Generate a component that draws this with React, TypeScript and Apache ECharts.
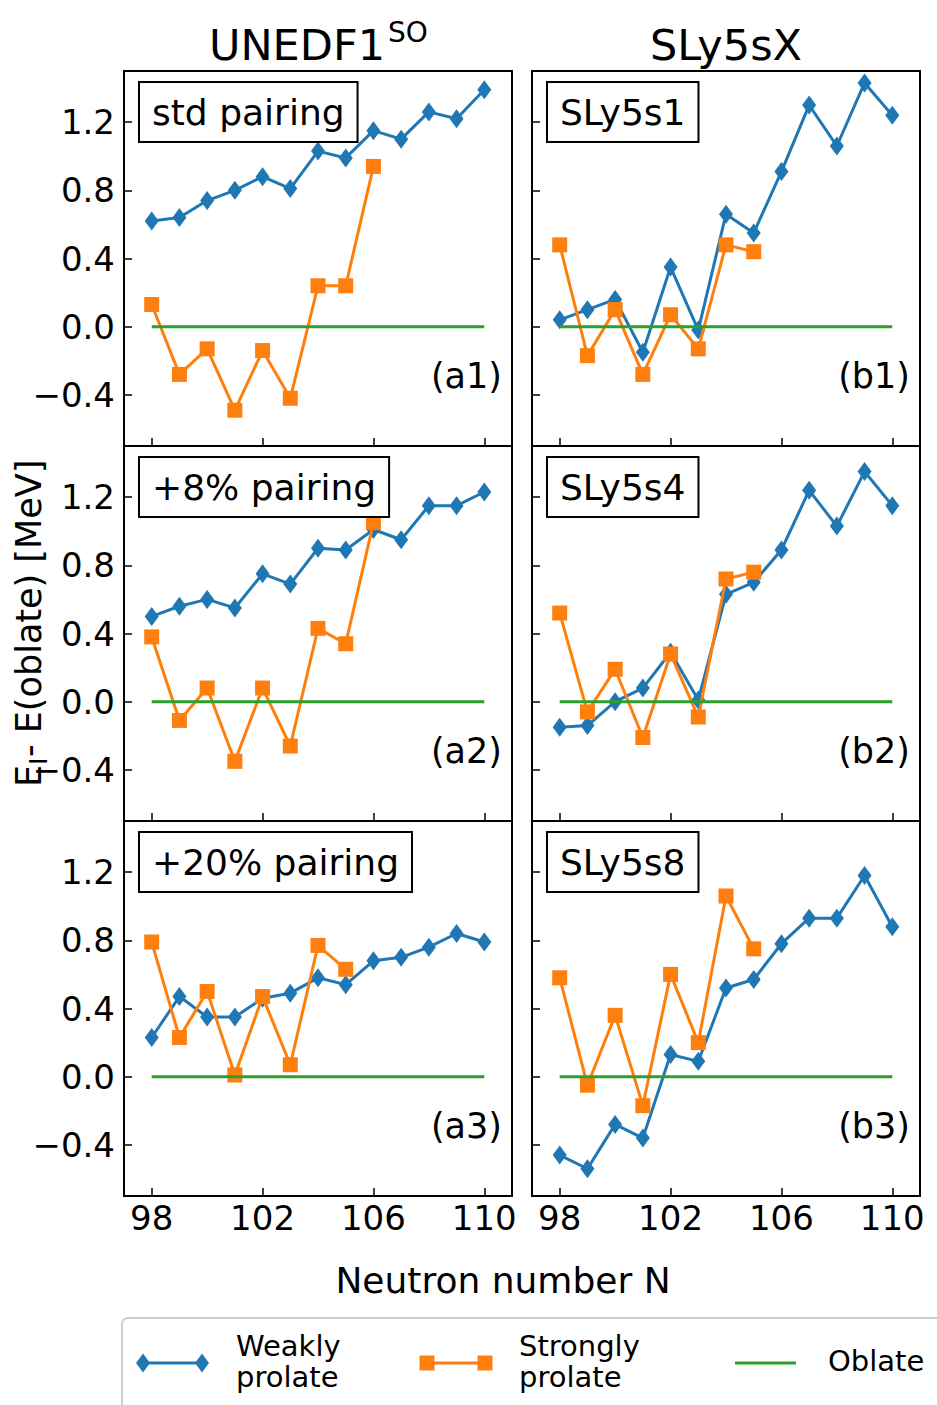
import React, { useEffect, useRef } from "react";
import * as echarts from "echarts";

// ---------- data ----------
const neutronN = [98, 99, 100, 101, 102, 103, 104, 105, 106, 107, 108, 109, 110];
const xTicks = [98, 102, 106, 110];
const yTicks = [-0.4, 0.0, 0.4, 0.8, 1.2];

const weakA1 = [0.62, 0.64, 0.74, 0.80, 0.88, 0.81, 1.03, 0.99, 1.15, 1.10, 1.26, 1.22, 1.39];
const strongA1 = [0.13, -0.28, -0.13, -0.49, -0.14, -0.42, 0.24, 0.24, 0.94];
const weakB1 = [0.04, 0.10, 0.16, -0.15, 0.35, -0.02, 0.66, 0.55, 0.91, 1.30, 1.06, 1.43, 1.24];
const strongB1 = [0.48, -0.17, 0.10, -0.28, 0.07, -0.13, 0.48, 0.44];
const weakA2 = [0.50, 0.56, 0.60, 0.55, 0.75, 0.69, 0.90, 0.89, 1.01, 0.95, 1.15, 1.15, 1.23];
const strongA2 = [0.38, -0.11, 0.08, -0.35, 0.08, -0.26, 0.43, 0.34, 1.05];
const weakB2 = [-0.15, -0.14, 0.00, 0.08, 0.29, 0.01, 0.63, 0.70, 0.89, 1.24, 1.03, 1.35, 1.15];
const strongB2 = [0.52, -0.06, 0.19, -0.21, 0.28, -0.09, 0.72, 0.76];
const weakA3 = [0.23, 0.47, 0.35, 0.35, 0.46, 0.49, 0.58, 0.54, 0.68, 0.70, 0.76, 0.84, 0.79];
const strongA3 = [0.79, 0.23, 0.50, 0.01, 0.47, 0.07, 0.77, 0.63];
const weakB3 = [-0.46, -0.54, -0.28, -0.36, 0.13, 0.09, 0.52, 0.57, 0.78, 0.93, 0.93, 1.18, 0.88];
const strongB3 = [0.58, -0.05, 0.36, -0.17, 0.60, 0.20, 1.06, 0.75];
const oblate = [0, 0, 0, 0, 0, 0, 0, 0, 0, 0, 0, 0, 0];

const weakSets = [weakA1, weakB1, weakA2, weakB2, weakA3, weakB3];
const strongSets = [strongA1, strongB1, strongA2, strongB2, strongA3, strongB3];
const panelNames = ["std pairing", "SLy5s1", "+8% pairing", "SLy5s4", "+20% pairing", "SLy5s8"];
const panelTags = ["(a1)", "(b1)", "(a2)", "(b2)", "(a3)", "(b3)"];
const columnTitles = ["UNEDF1", "SLy5sX"];
const legendNames = ["Weakly\nprolate", "Strongly\nprolate", "Oblate"];

// ---------- style / layout ----------
const BLUE = "#1f77b4";
const ORANGE = "#ff7f0e";
const GREEN = "#2ca02c";
const FONT = "DejaVu Sans";
const colLeft = [124, 532];
const rowTop = [71, 446, 821];
const PW = 388;
const PH = 375;

function fmtY(v: number) {
  const s = Math.abs(v).toFixed(1);
  return v < -1e-9 ? "\u2212" + s : s;
}

export default function App() {
  const ref = useRef<HTMLDivElement>(null);
  useEffect(() => {
    document.body.style.margin = "0";
    const chart = echarts.init(ref.current!, null, { renderer: "svg" });
    const grids: any[] = [];
    const xAxes: any[] = [];
    const yAxes: any[] = [];
    const series: any[] = [];
    const graphic: any[] = [];
    for (let i = 0; i < 6; i++) {
      const row = Math.floor(i / 2);
      const col = i % 2;
      const left = colLeft[col];
      const top = rowTop[row];
      grids.push({
        left, top, width: PW, height: PH,
        show: true, borderColor: "#000", borderWidth: 2, backgroundColor: "transparent",
      });
      xAxes.push({
        type: "value", gridIndex: i, min: 97, max: 111, position: "bottom",
        axisLine: { show: false, onZero: false },
        splitLine: { show: false },
        axisTick: { show: true, inside: true, length: 8, lineStyle: { color: "#000", width: 1.5 }, customValues: xTicks },
        axisLabel: {
          show: row === 2, customValues: xTicks, color: "#000", fontSize: 34, fontFamily: FONT, margin: 5,
        },
      });
      yAxes.push({
        type: "value", gridIndex: i, min: -0.7, max: 1.5, position: "left",
        axisLine: { show: false, onZero: false },
        splitLine: { show: false },
        axisTick: { show: true, inside: true, length: 8, lineStyle: { color: "#000", width: 1.5 }, customValues: yTicks },
        axisLabel: {
          show: col === 0, customValues: yTicks, color: "#000", fontSize: 34, fontFamily: FONT, margin: 9,
          formatter: (v: number) => fmtY(v),
        },
      });
      series.push({
        name: "Weakly prolate", type: "line", xAxisIndex: i, yAxisIndex: i, z: 2,
        data: weakSets[i].map((v, k) => [neutronN[k], v]),
        symbol: "diamond", symbolSize: [14, 19], showSymbol: true,
        lineStyle: { color: BLUE, width: 3 }, itemStyle: { color: BLUE },
      });
      series.push({
        name: "Strongly prolate", type: "line", xAxisIndex: i, yAxisIndex: i, z: 3,
        data: strongSets[i].map((v, k) => [neutronN[k], v]),
        symbol: "rect", symbolSize: 15, showSymbol: true,
        lineStyle: { color: ORANGE, width: 3 }, itemStyle: { color: ORANGE },
      });
      series.push({
        name: "Oblate", type: "line", xAxisIndex: i, yAxisIndex: i, z: 4,
        data: oblate.map((v, k) => [neutronN[k], v]),
        symbol: "none",
        lineStyle: { color: GREEN, width: 3 }, itemStyle: { color: GREEN },
      });
      // boxed panel name
      graphic.push({
        type: "text", x: left + 16, y: top + 12, z: 10,
        style: {
          text: panelNames[i], fill: "#000", font: `36px "${FONT}"`,
          textAlign: "left", align: "left", textVerticalAlign: "top", verticalAlign: "top",
          lineHeight: 42, padding: [8, 12, 8, 12],
          backgroundColor: "#fff", borderColor: "#000", borderWidth: 2,
        },
      });
      // panel tag
      graphic.push({
        type: "text", x: left + PW - 10, y: top + 305, z: 10,
        style: {
          text: panelTags[i], fill: "#000", font: `35px "${FONT}"`,
          textAlign: "right", align: "right", textVerticalAlign: "middle", verticalAlign: "middle",
        },
      });
    }

    const txt = (text: string, x: number, y: number, size: number, align: string, valign: string, extra: any = {}) => ({
      type: "text", x, y, z: 10, ...extra,
      style: {
        text, fill: "#000", font: `${size}px "${FONT}"`,
        textAlign: align, align, textVerticalAlign: valign, verticalAlign: valign,
      },
    });

    // column titles
    graphic.push(txt(columnTitles[0], 385, 45, 43, "right", "middle"));
    graphic.push(txt("SO", 388, 32, 28, "left", "middle"));
    graphic.push(txt(columnTitles[1], 726, 45, 43, "center", "middle"));
    // x axis title
    graphic.push(txt("Neutron number N", 503, 1280, 36, "center", "middle"));
    // y axis title (rotated)
    graphic.push(txt("E", 29, 787, 35, "left", "middle", { rotation: Math.PI / 2 }));
    graphic.push(txt("I", 38, 765, 25, "left", "middle", { rotation: Math.PI / 2 }));
    graphic.push(txt("- E(oblate) [MeV]", 29, 757, 35, "left", "middle", { rotation: Math.PI / 2 }));

    // legend
    const ly = 1363;
    graphic.push({
      type: "rect", z: 5,
      shape: { x: 122, y: 1318, width: 900, height: 140, r: 6 },
      style: { fill: "#fff", stroke: "#cccccc", lineWidth: 2 },
    });
    graphic.push({ type: "line", z: 11, shape: { x1: 143, y1: ly, x2: 202, y2: ly }, style: { stroke: BLUE, lineWidth: 3 } });
    for (const cx of [143, 202]) {
      graphic.push({
        type: "polygon", z: 12,
        shape: { points: [[cx, ly - 9.5], [cx + 7, ly], [cx, ly + 9.5], [cx - 7, ly]] },
        style: { fill: BLUE },
      });
    }
    graphic.push({ type: "line", z: 11, shape: { x1: 427, y1: ly, x2: 485, y2: ly }, style: { stroke: ORANGE, lineWidth: 3 } });
    for (const cx of [427, 485]) {
      graphic.push({ type: "rect", z: 12, shape: { x: cx - 7.5, y: ly - 7.5, width: 15, height: 15 }, style: { fill: ORANGE } });
    }
    graphic.push({ type: "line", z: 11, shape: { x1: 735, y1: ly, x2: 796, y2: ly }, style: { stroke: GREEN, lineWidth: 3 } });
    const legText = (text: string, x: number) => ({
      type: "text", x, y: ly - 2, z: 12,
      style: {
        text, fill: "#000", font: `29px "${FONT}"`, lineHeight: 31,
        textAlign: "left", align: "left", textVerticalAlign: "middle", verticalAlign: "middle",
      },
    });
    graphic.push(legText(legendNames[0], 236));
    graphic.push(legText(legendNames[1], 519));
    graphic.push(legText(legendNames[2], 828));

    chart.setOption({
      animation: false,
      backgroundColor: "#fff",
      grid: grids,
      xAxis: xAxes,
      yAxis: yAxes,
      series,
      graphic,
    });
    return () => chart.dispose();
  }, []);
  return <div ref={ref} style={{ width: 937, height: 1405, position: "absolute", left: 0, top: 0 }} />;
}
